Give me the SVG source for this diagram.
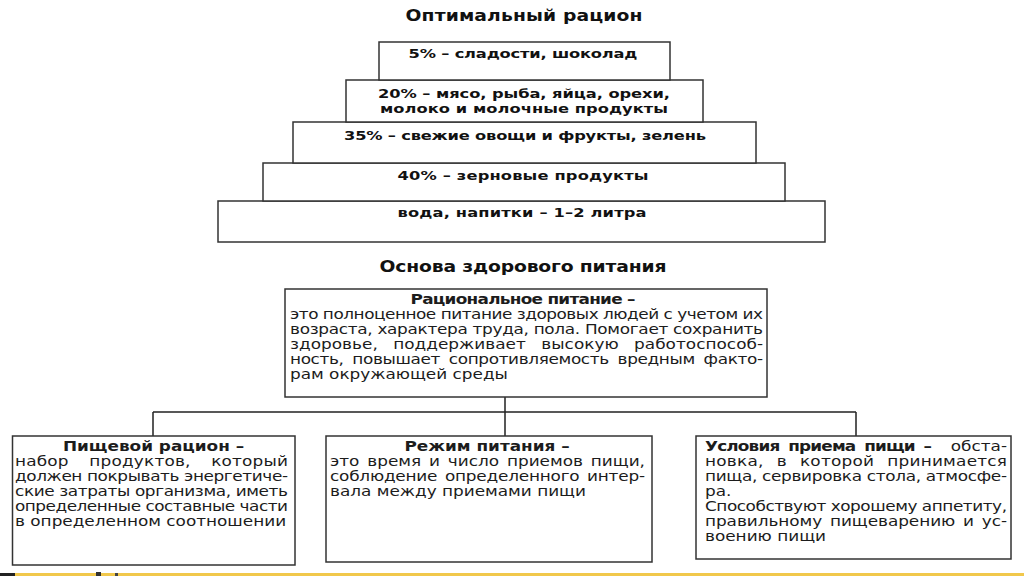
<svg xmlns="http://www.w3.org/2000/svg" width="1024" height="576" viewBox="0 0 1024 576">
<style>
.t{font-family:"DejaVu Sans","Liberation Sans",sans-serif;font-size:13.5px;fill:#1c1c1c}
.b{font-weight:bold}
.h{font-family:"DejaVu Sans","Liberation Sans",sans-serif;font-weight:bold;font-size:15px;fill:#111}
.pb{font-family:"DejaVu Sans","Liberation Sans",sans-serif;font-weight:bold;font-size:13px;fill:#111}
.c{text-anchor:middle}
.e{text-anchor:end}
.box{fill:#fff;stroke:#333;stroke-width:1.5}
.con{fill:none;stroke:#222;stroke-width:1.5}
</style>
<rect x="0" y="0" width="1024" height="576" fill="#fff"/>

<text id="title-1" class="h c" transform="translate(524,21) scale(1.25,1)" textLength="189.6">Оптимальный рацион</text>

<g id="pyr-5">
<rect class="box" x="218" y="201" width="607" height="41"/>
<text class="pb c" transform="translate(522,217) scale(1.25,1)" textLength="199.2">вода, напитки – 1–2 литра</text>
</g>
<g id="pyr-4">
<rect class="box" x="263" y="163" width="522" height="38"/>
<text class="pb c" transform="translate(523,180) scale(1.25,1)" textLength="200.8">40% – зерновые продукты</text>
</g>
<g id="pyr-3">
<rect class="box" x="293" y="122" width="463" height="41"/>
<text class="pb c" transform="translate(525,140) scale(1.25,1)" textLength="289.6">35% – свежие овощи и фрукты, зелень</text>
</g>
<g id="pyr-2">
<rect class="box" x="346" y="80" width="357" height="42"/>
<text class="pb c" transform="translate(524,98) scale(1.25,1)" textLength="233.6">20% – мясо, рыба, яйца, орехи,</text>
<text class="pb c" transform="translate(524,113) scale(1.25,1)" textLength="230.4">молоко и молочные продукты</text>
</g>
<g id="pyr-1">
<rect class="box" x="379" y="42" width="291" height="38"/>
<text class="pb c" transform="translate(523,58) scale(1.25,1)" textLength="183.2">5% – сладости, шоколад</text>
</g>

<text id="title-2" class="h c" transform="translate(523,272) scale(1.25,1)" textLength="229.6">Основа здорового питания</text>

<g id="connectors">
<path class="con" d="M505,397 V412 M153,412 H856 M153,412 V436 M505,412 V436 M856,412 V436"/>
</g>

<g id="rational">
<rect class="box" x="285" y="289" width="482" height="108"/>
<text class="t b c" transform="translate(523,304) scale(1.25,1)" textLength="180">Рациональное питание –</text>
<text class="t" transform="translate(290,319) scale(1.25,1)" textLength="378.4">это полноценное питание здоровых людей с учетом их</text>
<text class="t" transform="translate(290,334) scale(1.25,1)" textLength="378.4">возраста, характера труда, пола. Помогает сохранить</text>
<text class="t" transform="translate(290,349) scale(1.25,1)" textLength="378.4" word-spacing="8">здоровье, поддерживает высокую работоспособ-</text>
<text class="t" transform="translate(290,364) scale(1.25,1)" textLength="378.4" word-spacing="3">ность, повышает сопротивляемость вредным факто-</text>
<text class="t" transform="translate(290,379) scale(1.25,1)">рам окружающей среды</text>
</g>

<g id="ration">
<rect class="box" x="12.5" y="436" width="282.5" height="129"/>
<text class="t b c" transform="translate(153.5,451) scale(1.25,1)">Пищевой рацион –</text>
<text class="t" transform="translate(15,466) scale(1.25,1)" textLength="218.4" word-spacing="12">набор продуктов, который</text>
<text class="t" transform="translate(15,481) scale(1.25,1)" textLength="218.4">должен покрывать энергетиче-</text>
<text class="t" transform="translate(15,496) scale(1.25,1)" textLength="218.4">ские затраты организма, иметь</text>
<text class="t" transform="translate(15,511) scale(1.25,1)" textLength="218.4">определенные составные части</text>
<text class="t" transform="translate(15,526) scale(1.25,1)">в определенном соотношении</text>
</g>

<g id="regime">
<rect class="box" x="326" y="436" width="326" height="126"/>
<text class="t b c" transform="translate(487,451) scale(1.25,1)">Режим питания –</text>
<text class="t" transform="translate(330,466) scale(1.25,1)" textLength="252" word-spacing="2">это время и число приемов пищи,</text>
<text class="t" transform="translate(330,481) scale(1.25,1)" textLength="252" word-spacing="2">соблюдение определенного интер-</text>
<text class="t" transform="translate(330,496) scale(1.25,1)">вала между приемами пищи</text>
</g>

<g id="conditions">
<rect class="box" x="696" y="436" width="315" height="123"/>
<text class="t b" transform="translate(705,451) scale(1.25,1)" textLength="181.6" word-spacing="3">Условия приема пищи –</text>
<text class="t e" transform="translate(1007,451) scale(1.25,1)">обста-</text>
<text class="t" transform="translate(705,466) scale(1.25,1)" textLength="241.6" word-spacing="6">новка, в которой принимается</text>
<text class="t" transform="translate(705,481) scale(1.25,1)" textLength="241.6">пища, сервировка стола, атмосфе-</text>
<text class="t" transform="translate(705,496) scale(1.25,1)">ра.</text>
<text class="t" transform="translate(705,511) scale(1.25,1)" textLength="241.6">Способствуют хорошему аппетиту,</text>
<text class="t" transform="translate(705,526) scale(1.25,1)" textLength="241.6" word-spacing="2">правильному пищеварению и ус-</text>
<text class="t" transform="translate(705,541) scale(1.25,1)">воению пищи</text>
</g>

<rect x="0" y="573" width="1024" height="3" fill="#f1c84b"/>
<rect x="0" y="573" width="15" height="3" fill="#222"/>
<rect x="96" y="572" width="5" height="4" fill="#333"/>
<rect x="115" y="573" width="3" height="3" fill="#444"/>
</svg>
